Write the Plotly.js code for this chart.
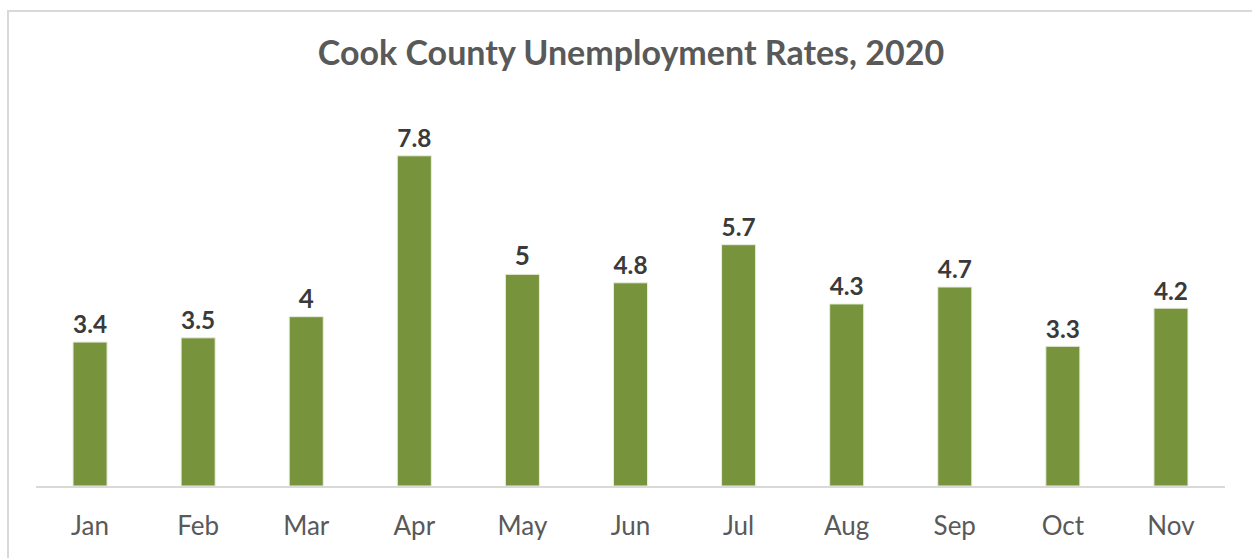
<!DOCTYPE html>
<html>
<head>
<meta charset="utf-8">
<script src="https://cdn.plot.ly/plotly-3.0.1.min.js"></script>
<style>
  html, body { margin: 0; padding: 0; background: #fff; }
  #wrap { position: relative; width: 1252px; height: 558px; overflow: hidden; }
  #chart { position: absolute; left: 0; top: 0; width: 1252px; height: 558px; }
  #frame { position: absolute; left: 7px; top: 10px; width: 1300px; height: 600px;
           border-left: 2px solid #d9d9d9; border-top: 2px solid #d9d9d9; pointer-events: none; }
</style>
</head>
<body>
<div id="wrap">
  <div id="chart"></div>
  <div id="frame"></div>
</div>
<script>
const months = ["Jan", "Feb", "Mar", "Apr", "May", "Jun", "Jul", "Aug", "Sep", "Oct", "Nov"];
const rates = [3.4, 3.5, 4, 7.8, 5, 4.8, 5.7, 4.3, 4.7, 3.3, 4.2];
const chartTitle = "Cook County Unemployment Rates, 2020";

const trace = {
  type: "bar",
  x: months,
  y: rates,
  text: rates.map(v => String(v)),
  textposition: "outside",
  textfont: { family: "Lato, sans-serif", size: 26, color: "#3a3a3a", weight: "bold" },
  cliponaxis: false,
  marker: { color: "#77933c", line: { color: "#e8eede", width: 1 } },
  hoverinfo: "skip"
};

const layout = {
  width: 1252,
  height: 558,
  margin: { l: 36, r: 27, t: 105, b: 72 },
  paper_bgcolor: "rgba(0,0,0,0)",
  plot_bgcolor: "rgba(0,0,0,0)",
  bargap: 0.685,
  showlegend: false,
  title: {
    text: "<b>" + chartTitle + "</b>",
    x: 0.504, xanchor: "center",
    y: 0.905, yanchor: "middle",
    font: { family: "Lato, sans-serif", size: 34, color: "#595959" }
  },
  xaxis: {
    type: "category",
    showline: true, linecolor: "#d9d9d9", linewidth: 2,
    ticks: "", showgrid: false, zeroline: false,
    tickfont: { family: "Lato, sans-serif", size: 26, color: "#595959" },
    ticklabelstandoff: 16
  },
  yaxis: {
    range: [0, 9],
    visible: false,
    showgrid: false, zeroline: false
  }
};

Plotly.newPlot("chart", [trace], layout, { staticPlot: true, displayModeBar: false });
</script>
</body>
</html>
